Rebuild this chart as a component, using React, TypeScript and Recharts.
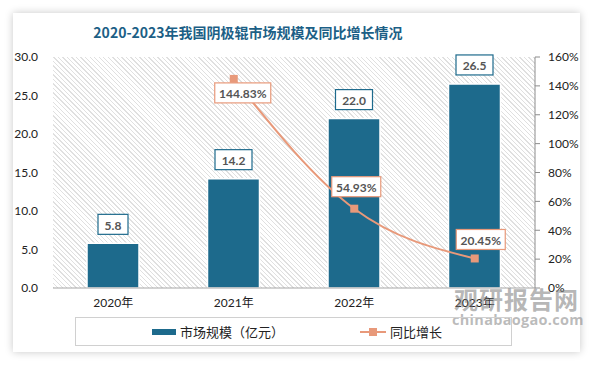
import React from 'react'
import { ComposedChart, Bar, Line, XAxis, YAxis, LabelList } from 'recharts'

// 数据
const years = ['2020年', '2021年', '2022年', '2023年']
const marketSize = [5.8, 14.2, 22.0, 26.5]
const growth: (number | null)[] = [null, 144.83, 54.93, 20.45]

const leftTicks = [0, 5, 10, 15, 20, 25, 30]
const rightTicks = [0, 20, 40, 60, 80, 100, 120, 140, 160]

const BAR_COLOR = '#1d6a8c'
const LINE_COLOR = '#e8997a'
const FONT = "Lato, 'Noto Sans CJK SC', sans-serif"

// 折线标签偏移（相对数据点）
const growthLabelOffset = [
  { dx: 0, dy: 0 },
  { dx: 9, dy: 14 },
  { dx: 2, dy: -22 },
  { dx: 6, dy: -19 },
]

const chartData = years.map((year, i) => ({
  year,
  size: marketSize[i],
  growth: growth[i],
}))

const BarLabel = ({ x, y, width, value }: any) => {
  const text = Number(value).toFixed(1)
  const w = text.length * 7 + 9
  const cx = x + width / 2
  const cy = y - 19
  return (
    <g>
      <rect x={cx - w / 2} y={cy - 10} width={w} height={20} fill="#fff" stroke={BAR_COLOR} strokeWidth={1.2} />
      <text x={cx} y={cy + 1} textAnchor="middle" dominantBaseline="central" fontSize={12} fontWeight="bold" fill="#555" fontFamily={FONT}>
        {text}
      </text>
    </g>
  )
}

const LineLabel = ({ x, y, value, index }: any) => {
  if (value == null) return null
  const text = `${Number(value).toFixed(2)}%`
  const w = text.length * 7 + 7
  const off = growthLabelOffset[index] || { dx: 0, dy: 0 }
  const cx = x + off.dx
  const cy = y + off.dy
  return (
    <g>
      <rect x={cx - w / 2} y={cy - 10} width={w} height={20} fill="#fff" stroke={LINE_COLOR} strokeWidth={1.2} />
      <text x={cx} y={cy + 1} textAnchor="middle" dominantBaseline="central" fontSize={12} fontWeight="bold" fill="#555" fontFamily={FONT}>
        {text}
      </text>
    </g>
  )
}

const SquareDot = ({ cx, cy, value }: any) => {
  if (value == null || cx == null) return null
  return <rect x={cx - 4} y={cy - 4} width={8} height={8} fill={LINE_COLOR} />
}

export default function App() {
  return (
    <div style={{ position: 'absolute', left: 0, top: 0, width: 594, height: 366, background: '#fff', overflow: 'hidden', fontFamily: FONT }}>
      <div
        style={{
          position: 'absolute',
          left: 13,
          top: 13,
          width: 567,
          height: 339,
          background: '#fff',
          boxShadow: '0 0 8px rgba(0,0,0,0.22)',
        }}
      />
      {/* 绘图区斜线底纹 */}
      <div
        style={{
          position: 'absolute',
          left: 53,
          top: 57,
          width: 482,
          height: 231,
          backgroundImage:
            'repeating-linear-gradient(45deg, #e0e0e0 0px, #e0e0e0 1px, transparent 1px, transparent 3.2px)',
        }}
      />
      <div
        style={{
          position: 'absolute',
          left: 0,
          top: 22,
          width: 496,
          textAlign: 'center',
          fontSize: 14,
          fontWeight: 'bold',
          color: '#1c5f86',
          fontFamily: "'Noto Sans CJK SC', serif",
        }}
      >
        2020-2023年我国阴极辊市场规模及同比增长情况
      </div>
      <div style={{ position: 'absolute', left: 0, top: 0 }}>
        <ComposedChart width={594} height={366} data={chartData} margin={{ top: 57, right: 14, bottom: 48, left: 0 }} barCategoryGap={0}>
          <XAxis
            dataKey="year"
            tickLine={false}
            axisLine={{ stroke: '#a6a6a6' }}
            tickSize={0}
            tickMargin={10}
            height={30}
            tick={{ fontSize: 12, fill: '#222', fontFamily: FONT }}
          />
          <YAxis
            yAxisId="left"
            domain={[0, 30]}
            ticks={leftTicks}
            width={53}
            axisLine={false}
            tickLine={false}
            tickSize={0}
            tickMargin={15}
            tickFormatter={(v: number) => v.toFixed(1)}
            tick={{ fontSize: 12, fill: '#222', fontFamily: FONT }}
          />
          <YAxis
            yAxisId="right"
            orientation="right"
            domain={[0, 160]}
            ticks={rightTicks}
            width={45}
            axisLine={{ stroke: '#8c8c8c' }}
            tickLine={{ stroke: '#8c8c8c' }}
            tickSize={5}
            tickMargin={8}
            tickFormatter={(v: number) => `${v}%`}
            tick={{ fontSize: 12, fill: '#222', fontFamily: FONT }}
          />
          <Bar yAxisId="left" dataKey="size" fill={BAR_COLOR} barSize={52} stroke="#fff" strokeWidth={1.5} isAnimationActive={false}>
            <LabelList dataKey="size" content={<BarLabel />} />
          </Bar>
          <Line
            yAxisId="right"
            type="monotone"
            dataKey="growth"
            stroke={LINE_COLOR}
            strokeWidth={2}
            dot={<SquareDot />}
            activeDot={false}
            connectNulls
            isAnimationActive={false}
          >
            <LabelList dataKey="growth" content={<LineLabel />} />
          </Line>
        </ComposedChart>
      </div>
      {/* 水印 */}
      <div style={{ position: 'absolute', left: 454, top: 284, fontSize: 24, fontWeight: 'bold', color: 'rgba(120,120,120,0.55)', fontFamily: "'Noto Sans CJK SC', sans-serif", letterSpacing: 1, lineHeight: '30px' }}>
        观研报告网
      </div>
      <div style={{ position: 'absolute', left: 452, top: 311, fontSize: 14.5, fontWeight: 'bold', color: 'rgba(120,120,120,0.5)', fontFamily: "'Open Sans', sans-serif", lineHeight: '18px', letterSpacing: 0.3 }}>
        chinabaogao.com
      </div>
      {/* 图例 */}
      <div style={{ position: 'absolute', left: 75, top: 317, width: 437, height: 29, border: '1px solid #d0d0d0', boxSizing: 'border-box', background: 'transparent' }}>
        <div style={{ position: 'absolute', left: 76, top: 11, width: 24, height: 6, background: BAR_COLOR }} />
        <div style={{ position: 'absolute', left: 104, top: 5, fontSize: 13, color: '#222', lineHeight: '17px', fontFamily: "'Noto Sans CJK SC', sans-serif" }}>
          市场规模（亿元）
        </div>
        <div style={{ position: 'absolute', left: 284, top: 13, width: 26, height: 2, background: LINE_COLOR }} />
        <div style={{ position: 'absolute', left: 293, top: 10, width: 8, height: 8, background: LINE_COLOR }} />
        <div style={{ position: 'absolute', left: 314, top: 5, fontSize: 13, color: '#222', lineHeight: '17px', fontFamily: "'Noto Sans CJK SC', sans-serif" }}>
          同比增长
        </div>
      </div>
    </div>
  )
}
